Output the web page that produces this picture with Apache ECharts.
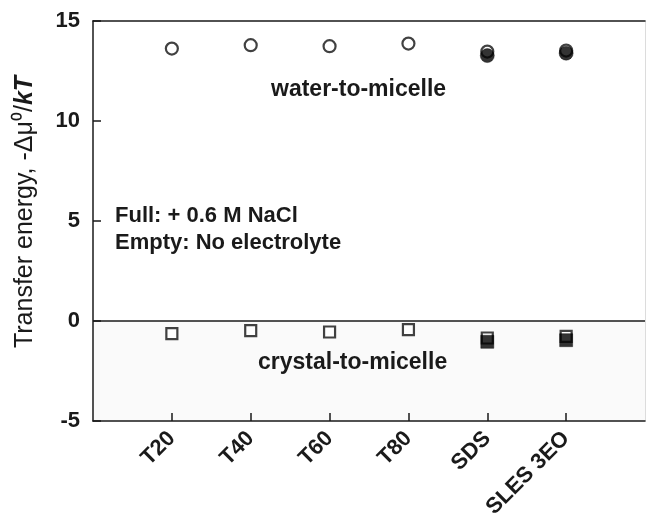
<!DOCTYPE html>
<html>
<head>
<meta charset="utf-8">
<script src="https://cdn.jsdelivr.net/npm/echarts@6/dist/echarts.min.js"></script>
<style>html,body{margin:0;padding:0;background:#fff}#c{width:646px;height:522px}</style>
</head>
<body>
<div id="c"></div>
<script>
var categories = ['T20', 'T40', 'T60', 'T80', 'SDS', 'SLES 3EO'];
var waterEmpty = [13.62, 13.79, 13.74, 13.87, 13.47, 13.52];
var waterFull = [null, null, null, null, 13.27, 13.39];
var crystalEmpty = [-0.63, -0.48, -0.55, -0.43, -0.85, -0.77];
var crystalFull = [null, null, null, null, -1.04, -0.96];
var yTicks = [-5, 0, 5, 10, 15];

function pts(arr) {
  var out = [];
  arr.forEach(function (v, i) { if (v !== null) out.push([i + 1, v]); });
  return out;
}
var font = '"Liberation Sans", Arial, sans-serif';
var ink = '#1a1a1a';
var chart = echarts.init(document.getElementById('c'), null, {renderer: 'canvas'});
chart.setOption({
  animation: false,
  backgroundColor: '#fff',
  grid: {left: 93, right: 1, top: 21, bottom: 101, show: false},
  xAxis: [{
    type: 'value', min: 0, max: 7, interval: 1, z: 10,
    axisLine: {show: true, onZero: false, lineStyle: {color: ink, width: 1.5}},
    axisTick: {show: true, inside: true, length: 8, lineStyle: {color: ink, width: 1.5},
      customValues: [1, 2, 3, 4, 5, 6]},
    splitLine: {show: false},
    axisLabel: {
      rotate: 45, margin: 14, fontFamily: font, fontWeight: 'bold', fontSize: 22, color: ink,
      customValues: [1, 2, 3, 4, 5, 6],
      formatter: function (v) { return categories[Math.round(v) - 1] || ''; }
    }
  }, {
    type: 'value', min: 0, max: 7, position: 'top', z: 10,
    axisLine: {show: true, onZero: false, lineStyle: {color: ink, width: 1.5}},
    axisTick: {show: false}, axisLabel: {show: false}, splitLine: {show: false}
  }],
  yAxis: [{
    type: 'value', min: yTicks[0], max: yTicks[yTicks.length - 1], interval: 5, z: 10,
    axisLine: {show: true, onZero: false, lineStyle: {color: ink, width: 1.5}},
    axisTick: {show: true, inside: true, length: 8, lineStyle: {color: ink, width: 1.5}},
    splitLine: {show: false},
    axisLabel: {margin: 13, fontFamily: font, fontWeight: 'bold', fontSize: 22, color: ink},
    name: '{a|Transfer energy, -Δμ⁰/}{b|kT}',
    nameLocation: 'middle', nameRotate: 90, nameGap: 55,
    nameTextStyle: {
      padding: [0, 0, 0, 18],
      rich: {
        a: {fontFamily: font, fontSize: 25, color: ink},
        b: {fontFamily: font, fontSize: 25, fontWeight: 'bold', fontStyle: 'italic', color: ink}
      }
    }
  }, {
    type: 'value', min: yTicks[0], max: yTicks[yTicks.length - 1], position: 'right', z: 10,
    axisLine: {show: true, onZero: false, lineStyle: {color: '#dcdcdc', width: 1}},
    axisTick: {show: false}, axisLabel: {show: false}, splitLine: {show: false}
  }],
  series: [
    {
      type: 'scatter', data: [], z: 0,
      markArea: {silent: true, itemStyle: {color: '#fafafa'}, data: [[{yAxis: -5, xAxis: 0}, {yAxis: 0, xAxis: 7}]]}
    },
    {
      type: 'scatter', data: pts(waterEmpty), symbol: 'circle', symbolSize: 12,
      itemStyle: {color: '#fff', borderColor: '#111', borderWidth: 2.2}, z: 3,
      markLine: {silent: true, symbol: 'none', label: {show: false},
        lineStyle: {color: ink, width: 1.5, type: 'solid'}, data: [{yAxis: 0}]}
    },
    {
      type: 'scatter', data: pts(waterFull), symbol: 'circle', symbolSize: 14,
      itemStyle: {color: '#000', borderColor: '#000', borderWidth: 0.5}, z: 4
    },
    {
      type: 'scatter', data: pts(crystalEmpty), symbol: 'rect', symbolSize: 11,
      itemStyle: {color: '#fff', borderColor: '#111', borderWidth: 2.2}, z: 3
    },
    {
      type: 'scatter', data: pts(crystalFull), symbol: 'rect', symbolSize: 13,
      itemStyle: {color: '#000', borderColor: '#000', borderWidth: 0.5}, z: 4
    }
  ],
  graphic: [
    {type: 'text', z: 100, left: 271, top: 78, style: {text: 'water-to-micelle', font: 'bold 23px ' + font, fill: ink}},
    {type: 'text', z: 100, left: 115, top: 205, style: {text: 'Full: + 0.6 M NaCl', font: 'bold 22px ' + font, fill: ink}},
    {type: 'text', z: 100, left: 115, top: 232, style: {text: 'Empty: No electrolyte', font: 'bold 22px ' + font, fill: ink}},
    {type: 'text', z: 100, left: 258, top: 351, style: {text: 'crystal-to-micelle', font: 'bold 23px ' + font, fill: ink}}
  ]
});
</script>
</body>
</html>
